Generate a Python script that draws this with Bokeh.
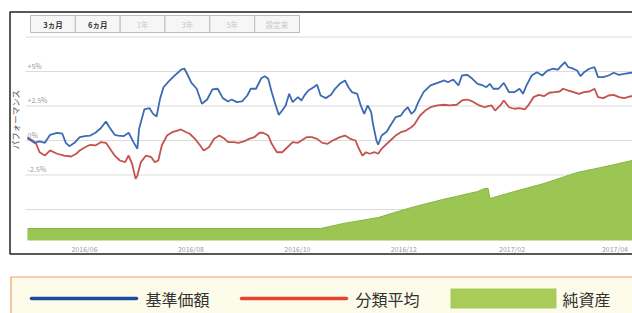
import numpy as np
import pandas as pd
from bokeh.plotting import figure
from bokeh.models import Range1d
from bokeh.core.properties import value
from bokeh.embed import file_html
from bokeh.resources import INLINE

# ---------------- data ----------------
blue_dates = ["2016-04-27","2016-05-01","2016-05-04","2016-05-07","2016-05-10","2016-05-14","2016-05-17","2016-05-19",
              "2016-05-21","2016-05-24","2016-05-27","2016-05-30","2016-06-02","2016-06-05","2016-06-08","2016-06-11",
              "2016-06-13","2016-06-16","2016-06-18","2016-06-21","2016-06-24","2016-06-27","2016-06-29","2016-06-30",
              "2016-07-03","2016-07-06","2016-07-08","2016-07-10","2016-07-12","2016-07-14","2016-07-17","2016-07-20",
              "2016-07-23","2016-07-24","2016-07-26","2016-07-28","2016-07-30","2016-08-02","2016-08-05","2016-08-08",
              "2016-08-11","2016-08-14","2016-08-17","2016-08-20","2016-08-22","2016-08-25","2016-08-28","2016-08-31",
              "2016-09-02","2016-09-05","2016-09-08","2016-09-10","2016-09-12","2016-09-14","2016-09-16","2016-09-18",
              "2016-09-20","2016-09-22","2016-09-24","2016-09-26","2016-09-29","2016-10-01","2016-10-03","2016-10-05",
              "2016-10-08","2016-10-10","2016-10-12","2016-10-15","2016-10-18","2016-10-20","2016-10-23","2016-10-26",
              "2016-10-28","2016-10-30","2016-11-02","2016-11-04","2016-11-06","2016-11-08","2016-11-10","2016-11-11",
              "2016-11-13","2016-11-14","2016-11-16","2016-11-19","2016-11-21","2016-11-24","2016-11-27","2016-11-29",
              "2016-12-01","2016-12-03","2016-12-05","2016-12-07","2016-12-10","2016-12-14","2016-12-18","2016-12-22",
              "2016-12-24","2016-12-27","2016-12-30","2017-01-01","2017-01-04","2017-01-07","2017-01-10","2017-01-13",
              "2017-01-15","2017-01-17","2017-01-19","2017-01-22","2017-01-25","2017-01-28","2017-01-31","2017-02-03",
              "2017-02-05","2017-02-07","2017-02-10","2017-02-13","2017-02-16","2017-02-19","2017-02-22","2017-02-25",
              "2017-02-27","2017-03-01","2017-03-03","2017-03-05","2017-03-08","2017-03-10","2017-03-12","2017-03-15",
              "2017-03-18","2017-03-20","2017-03-23","2017-03-26","2017-03-29","2017-04-01","2017-04-04","2017-04-08",
              "2017-04-11"]
blue_vals = [0.17,-0.17,-0.07,-0.17,0.41,0.56,0.49,-0.17,
             -0.41,-0.17,0.24,0.31,0.36,0.56,0.89,1.38,
             0.96,0.41,0.36,0.31,0.56,-0.17,-0.60,0.85,
             2.25,2.34,1.93,1.74,3.02,3.86,4.28,4.66,
             5.00,5.14,5.20,4.71,4.18,3.75,2.66,2.97,
             3.70,3.75,3.07,2.83,2.97,2.78,2.83,3.26,
             3.75,3.75,4.51,4.66,4.47,3.50,2.66,1.86,
             2.17,2.54,3.38,2.78,3.14,2.90,3.31,3.62,
             3.86,4.04,3.26,3.07,3.31,3.70,4.11,4.35,
             3.86,3.50,3.38,2.54,1.93,2.54,2.05,1.21,
             0.00,-0.31,0.36,0.65,1.09,1.69,1.81,2.17,
             2.41,1.93,2.17,2.78,3.50,3.99,4.18,4.35,
             4.22,4.42,3.99,4.71,4.76,4.47,4.11,3.99,
             3.86,4.11,3.75,3.75,4.18,3.50,3.50,3.75,
             3.38,3.99,4.71,4.95,4.71,5.07,5.20,5.14,
             5.43,5.67,5.31,5.24,5.07,4.66,4.95,5.20,
             5.31,4.59,4.59,4.71,4.91,4.76,4.83,4.91,
             4.88]

red_dates = ["2016-04-27","2016-04-30","2016-05-02","2016-05-04","2016-05-07","2016-05-10","2016-05-14","2016-05-18",
             "2016-05-22","2016-05-25","2016-05-27","2016-05-30","2016-06-02","2016-06-05","2016-06-08","2016-06-11",
             "2016-06-14","2016-06-16","2016-06-19","2016-06-22","2016-06-24","2016-06-26","2016-06-28","2016-06-29",
             "2016-07-01","2016-07-04","2016-07-07","2016-07-09","2016-07-11","2016-07-13","2016-07-16","2016-07-19",
             "2016-07-22","2016-07-24","2016-07-27","2016-07-29","2016-08-01","2016-08-04","2016-08-06","2016-08-09",
             "2016-08-12","2016-08-15","2016-08-18","2016-08-20","2016-08-23","2016-08-26","2016-08-29","2016-09-01",
             "2016-09-04","2016-09-07","2016-09-09","2016-09-12","2016-09-14","2016-09-17","2016-09-20","2016-09-23",
             "2016-09-26","2016-09-29","2016-10-01","2016-10-04","2016-10-07","2016-10-10","2016-10-13","2016-10-16",
             "2016-10-19","2016-10-21","2016-10-23","2016-10-26","2016-10-29","2016-11-01","2016-11-03","2016-11-05",
             "2016-11-07","2016-11-09","2016-11-12","2016-11-14","2016-11-16","2016-11-18","2016-11-21","2016-11-24",
             "2016-11-27","2016-11-30","2016-12-03","2016-12-05","2016-12-08","2016-12-11","2016-12-14","2016-12-18",
             "2016-12-22","2016-12-25","2016-12-29","2017-01-01","2017-01-04","2017-01-07","2017-01-11","2017-01-14",
             "2017-01-16","2017-01-18","2017-01-20","2017-01-23","2017-01-25","2017-01-28","2017-01-31","2017-02-03",
             "2017-02-06","2017-02-08","2017-02-11","2017-02-14","2017-02-17","2017-02-20","2017-02-23","2017-02-26",
             "2017-02-28","2017-03-03","2017-03-06","2017-03-09","2017-03-12","2017-03-15","2017-03-18","2017-03-20",
             "2017-03-23","2017-03-26","2017-03-29","2017-04-01","2017-04-04","2017-04-08","2017-04-11"]
red_vals = [0.24,0.00,-0.24,-0.85,-1.09,-0.72,-0.96,-1.09,
            -1.16,-0.96,-0.72,-0.49,-0.31,-0.36,-0.12,-0.17,
            -0.72,-1.09,-1.45,-1.57,-1.09,-1.69,-2.78,-2.54,
            -1.57,-1.09,-1.21,-1.57,-1.45,-0.36,0.36,0.60,
            0.72,0.80,0.60,0.49,0.12,-0.36,-0.72,-0.49,
            0.12,0.36,0.12,-0.12,-0.12,-0.17,-0.07,0.12,
            0.24,0.56,0.56,0.36,-0.24,-0.85,-0.85,-0.49,
            -0.12,-0.17,0.00,0.24,0.24,0.12,-0.17,-0.24,
            0.00,0.12,0.24,0.36,0.12,0.00,-0.60,-1.09,
            -0.85,-0.96,-0.85,-0.96,-0.60,-0.36,0.00,0.36,
            0.60,0.72,0.96,1.21,1.81,2.17,2.41,2.54,
            2.59,2.54,2.59,2.90,2.97,2.83,2.54,2.41,
            2.49,2.54,2.17,2.54,2.90,2.41,2.30,2.34,
            2.25,2.54,3.14,3.31,3.21,3.46,3.50,3.55,
            3.75,3.62,3.50,3.38,3.50,3.55,3.75,3.14,
            3.07,3.26,3.31,3.14,3.07,3.21,3.18]

nav_dates = ["2016-04-27","2016-07-15","2016-10-12","2016-10-25","2016-11-14","2016-12-03","2016-12-21",
             "2017-01-10","2017-01-14","2017-01-16","2017-01-17","2017-01-19","2017-01-29","2017-02-17",
             "2017-03-08","2017-03-27","2017-04-11"]
nav_vals = [12, 12, 12, 17, 23, 33, 41, 49, 52, 52, 42, 43, 48, 57, 68, 75, 81]

grid_vals = [7.5, 5, 2.5, 0, -2.5, -5]
ytick_vals = [5, 2.5, 0, -2.5]
ytick_labels = ["+5%", "+2.5%", "0%", "-2.5%"]
xtick_dates = ["2016-06-01", "2016-08-01", "2016-10-01", "2016-12-01", "2017-02-01", "2017-04-01"]
xtick_labels = ["2016/06", "2016/08", "2016/10", "2016/12", "2017/02", "2017/04"]
buttons = ["3ヵ月", "6ヵ月", "1年", "3年", "5年", "設定来"]
buttons_active = [True, True, False, False, False, False]
y_title = "パフォーマンス"
legend_names = ["基準価額", "分類平均", "純資産"]

# ---------------- layout (window pixel geometry) ----------------
W, H = 632, 313
LEFT, TOP = 0, 0
RIGHT, BOTTOM = LEFT + W, TOP + H
ANCHOR = pd.Timestamp("2016-06-01")
ANCHOR_PX = 88.0
PX_PER_DAY = 1.745
ZERO_PX = 140.0
PX_PER_PCT = 13.8
NAV_ZERO_PX = 240.0

x_start = ANCHOR - pd.Timedelta(days=(ANCHOR_PX - LEFT) / PX_PER_DAY)
x_end = ANCHOR + pd.Timedelta(days=(RIGHT - ANCHOR_PX) / PX_PER_DAY)

FONT = value("Noto Sans CJK JP")
BLUE, RED, GREEN = "#3d6bb3", "#c4524e", "#9cc653"

p = figure(width=W, height=H, x_range=Range1d(x_start, x_end),
           y_range=Range1d(-(BOTTOM - ZERO_PX) / PX_PER_PCT, (ZERO_PX - TOP) / PX_PER_PCT),
           x_axis_location=None, y_axis_location=None,
           toolbar_location=None, output_backend="svg", min_border=0)
p.extra_x_ranges = {"px": Range1d(LEFT, RIGHT)}
p.extra_y_ranges = {"py": Range1d(BOTTOM, TOP),
                    "nav": Range1d(-(BOTTOM - NAV_ZERO_PX), NAV_ZERO_PX - TOP)}
p.outline_line_color = None
p.grid.visible = False
p.background_fill_color = "white"
p.border_fill_color = "white"

bd = pd.to_datetime(blue_dates)
rd = pd.to_datetime(red_dates)
nd = pd.to_datetime(nav_dates)

# grid lines
g0 = bd[0] - pd.Timedelta(days=1)
g1 = x_end + pd.Timedelta(days=5)
p.segment(x0=[g0] * len(grid_vals), x1=[g1] * len(grid_vals), y0=grid_vals, y1=grid_vals,
          line_color="#dcdcdc", line_width=1.2)

# net assets area
p.varea(x=nd, y1=0, y2=nav_vals, y_range_name="nav", fill_color=GREEN)
p.line(nd, nav_vals, y_range_name="nav", line_color="#86b443", line_width=1)

# lines
p.line(rd, red_vals, line_color=RED, line_width=1.8)
p.line(bd, blue_vals, line_color=BLUE, line_width=1.8)

# y tick labels
p.text(x=[27] * len(ytick_vals), y=ytick_vals, text=ytick_labels, x_range_name="px",
       text_font=FONT, text_font_size="7px", text_color="#9a9a9a",
       text_align="left", text_baseline="bottom", y_offset=-1)

# x tick labels
p.text(x=pd.to_datetime(xtick_dates), y=[248] * len(xtick_dates), text=xtick_labels, y_range_name="py",
       text_font=FONT, text_font_size="7px", text_color="#9a9a9a",
       text_align="center", text_baseline="middle", x_offset=-4)

# y title
p.text(x=[14], y=[119], text=[y_title], angle=np.pi / 2, x_range_name="px", y_range_name="py",
       text_font=FONT, text_font_size="8.5px", text_color="#555555",
       text_align="center", text_baseline="middle")

# outer frame
p.quad(left=[9.5], right=[RIGHT + 10], top=[11.5], bottom=[253.5], x_range_name="px", y_range_name="py",
       fill_color=None, line_color="#222222", line_width=1.5)

# range buttons
edges = np.linspace(30, 299, len(buttons) + 1)
p.quad(left=edges[:-1], right=edges[1:], top=[15] * len(buttons), bottom=[32] * len(buttons),
       x_range_name="px", y_range_name="py", fill_color="#f6f6f6", line_color="#bdbdbd", line_width=1)
centers = (edges[:-1] + edges[1:]) / 2
act = [c for c, a in zip(centers, buttons_active) if a]
ina = [c for c, a in zip(centers, buttons_active) if not a]
p.text(x=act, y=[23.5] * len(act), text=[b for b, a in zip(buttons, buttons_active) if a],
       x_range_name="px", y_range_name="py", text_font=FONT, text_font_size="7.5px",
       text_font_style="bold", text_color="#333333", text_align="center", text_baseline="middle")
p.text(x=ina, y=[23.5] * len(ina), text=[b for b, a in zip(buttons, buttons_active) if not a],
       x_range_name="px", y_range_name="py", text_font=FONT, text_font_size="7.5px",
       text_color="#c8c8c8", text_align="center", text_baseline="middle")

# legend box
p.quad(left=[10.5], right=[RIGHT + 10], top=[276.5], bottom=[BOTTOM + 10], x_range_name="px", y_range_name="py",
       fill_color="#fdfbea", line_color="#f0a070", line_width=1.2)
LEG_Y = 298
p.segment(x0=[31], x1=[136], y0=[LEG_Y], y1=[LEG_Y], x_range_name="px", y_range_name="py",
          line_color="#1c4a9c", line_width=3.5, line_cap="round")
p.segment(x0=[241], x1=[346], y0=[LEG_Y], y1=[LEG_Y], x_range_name="px", y_range_name="py",
          line_color="#e8432e", line_width=3.5, line_cap="round")
p.quad(left=[450], right=[556], top=[288], bottom=[308], x_range_name="px", y_range_name="py",
       fill_color="#a8cb5a", line_color=None)
p.text(x=[145, 355, 562], y=[LEG_Y] * 3, text=legend_names, x_range_name="px", y_range_name="py",
       text_font=FONT, text_font_size="16px", text_color="#333333",
       text_align="left", text_baseline="middle")

open("out.html", "w").write(file_html(p, INLINE))
